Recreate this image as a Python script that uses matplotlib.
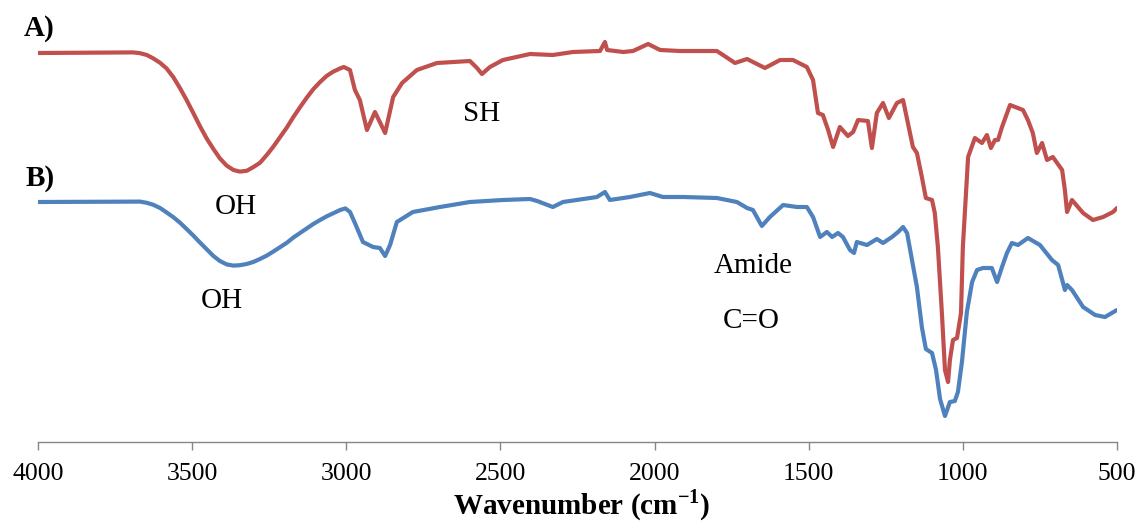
import matplotlib
matplotlib.use("Agg")
import matplotlib.pyplot as plt

plt.rcParams['font.family'] = ['Liberation Serif', 'DejaVu Serif']
plt.rcParams['mathtext.fontset'] = 'custom'
plt.rcParams['mathtext.rm'] = 'Liberation Serif'
plt.rcParams['mathtext.bf'] = 'Liberation Serif:bold'

# Spectrum A (offset transmittance, arbitrary units)
wn_a = [4000, 3691, 3669, 3647, 3626, 3604, 3583, 3561, 3539, 3518, 3496, 3475,
        3453, 3431, 3410, 3388, 3366, 3345, 3323, 3302, 3280, 3258, 3237, 3215,
        3193, 3172, 3150, 3128, 3107, 3085, 3064, 3042, 3020, 3008, 2988, 2972,
        2956, 2933, 2907, 2874, 2848, 2819, 2771, 2706,
        2599, 2576, 2560, 2534, 2492, 2404, 2330, 2265, 2177, 2161, 2154, 2102,
        2070, 2021, 1982, 1918, 1798, 1778, 1739, 1700, 1642, 1593, 1551, 1506,
        1486, 1470, 1454, 1437, 1421, 1399, 1373, 1356, 1340, 1308, 1295, 1279,
        1259, 1240, 1214, 1194, 1162, 1149, 1133, 1120, 1100, 1091, 1081, 1068,
        1058, 1048, 1042, 1032, 1019, 1006, 1000, 983, 961, 938, 922, 909, 896,
        886, 873, 847, 805, 789, 773, 760, 743, 727, 708, 678, 669, 662, 646,
        610, 578, 545, 513, 500]
t_a = [97.25, 97.4, 97.2, 96.75, 95.9, 94.8, 93.4, 91.2, 88.4, 85.5, 82.2, 79,
       75.9, 73.25, 70.9, 69.1, 68, 67.6, 67.8, 68.7, 69.8, 71.75, 73.8, 76.2,
       78.6, 81.2, 83.7, 86.1, 88.2, 90, 91.5, 92.6, 93.4, 93.75, 93, 88,
       85.5, 78, 82.5, 77.25, 86.25, 89.75, 93, 94.75,
       95.25, 93.5, 92, 93.75, 95.5, 97, 96.75, 97.5, 97.75, 100, 98, 97.5,
       97.75, 99.5, 98, 97.75, 97.75, 96.75, 94.75, 95.75, 93.5, 95.5, 95.5, 93.75,
       90.5, 82.25, 81.75, 78, 73.75, 78.75, 76.5, 77.5, 80.5, 80.25, 73.5, 82.25,
       84.75, 81, 84.75, 85.5, 73.75, 72.25, 66.25, 61, 60.5, 57.25, 48.75, 32.25,
       18, 15, 20.5, 25.5, 26, 32.25, 48.75, 71.25, 76, 74.75, 76.75, 73.5, 75.5,
       75.5, 78.75, 84.25, 83, 80.5, 77.25, 72.25, 74.75, 70.5, 71.25, 68, 63, 57.5, 60.5,
       57.25, 55.5, 56.25, 57.5, 58.5]

# Spectrum B
wn_b = [4000, 3669, 3647, 3626, 3604, 3583, 3561, 3539, 3518, 3496, 3475, 3453,
        3431, 3410, 3388, 3366, 3345, 3323, 3302, 3280, 3258, 3237, 3215, 3193,
        3172, 3150, 3128, 3107, 3085, 3064, 3042, 3020, 3003, 2988,
        2972, 2946, 2913, 2891, 2874, 2858, 2836, 2784, 2696, 2599, 2492,
        2404, 2381, 2330, 2297, 2187, 2161, 2145, 2080, 2015, 1973, 1908, 1798,
        1733, 1700, 1681, 1652, 1626, 1583, 1538, 1506, 1486, 1463, 1441, 1424,
        1405, 1389, 1366, 1353, 1344, 1311, 1279, 1259, 1230, 1210, 1194, 1181,
        1165, 1149, 1133, 1120, 1100, 1087, 1074, 1058, 1042, 1026, 1016, 1003,
        987, 970, 954, 935, 906, 889, 873, 857, 841, 821, 789, 750, 711, 691,
        675, 669, 662, 646, 610, 571, 539, 500]
t_b = [60, 60.1, 59.8, 59.3, 58.5, 57.4, 56.2, 54.8, 53.25, 51.6, 49.9, 48.2,
       46.5, 45.25, 44.4, 44.1, 44.2, 44.5, 45, 45.75, 46.6, 47.6, 48.7, 49.8,
       51.1, 52.25, 53.4, 54.5, 55.5, 56.4, 57.2, 58, 58.4, 57.5,
       54.75, 50, 48.75, 48.5, 46.5, 49.25, 55, 57.5, 58.75, 60, 60.5,
       60.75, 60.25, 58.75, 60, 61.25, 62.5, 60.5, 61.25, 62.25, 61.25, 61.25, 61,
       60, 58.5, 58, 54, 56.25, 59.25, 58.75, 58.75, 56.25, 51.25, 52.5, 51.25,
       52.25, 51.25, 48, 47.25, 50, 49.25, 50.75, 49.75, 51.25, 52.5, 53.75, 52.25,
       45.5, 38.75, 28.75, 23.25, 22.25, 18, 10.75, 6.5, 10, 10.25, 12.5, 20,
       32.5, 40, 43, 43.5, 43.5, 40, 43.75, 47.25, 49.75, 49.25, 51, 49.25, 45.5, 44.25,
       39.75, 38, 39.25, 38, 33.75, 31.75, 31.25, 33]

x_ticks = [4000, 3500, 3000, 2500, 2000, 1500, 1000, 500]

# Band assignments: (label, wavenumber, height)
band_labels = ["SH", "OH", "OH", "Amide", "C=O"]
band_wn = [2560, 3358, 3403, 1681, 1687]
band_t = [82.0, 58.75, 35.25, 44.0, 30.25]

RED = "#C0504D"
BLUE = "#4F81BD"
AXIS_GRAY = "#868686"

fig = plt.figure(figsize=(11.38, 5.22), dpi=100)
ax = fig.add_axes([38 / 1138, 80 / 522, 1079 / 1138, 442 / 522])

ax.plot(wn_b, t_b, color=BLUE, lw=3.0, solid_joinstyle='round', solid_capstyle='round')
ax.plot(wn_a, t_a, color=RED, lw=3.0, solid_joinstyle='round', solid_capstyle='round')

ax.set_xlim(4000, 500)
ax.set_ylim(0, 110.5)
ax.set_xticks(x_ticks)
ax.set_xticklabels([str(t) for t in x_ticks])
ax.set_yticks([])

for side in ("left", "right", "top"):
    ax.spines[side].set_visible(False)
ax.spines["bottom"].set_color(AXIS_GRAY)
ax.spines["bottom"].set_linewidth(1.0)
ax.tick_params(axis='x', direction='out', length=6, width=1.0, color=AXIS_GRAY,
               labelsize=18.5, labelcolor='black', pad=9)

for lab, w, t in zip(band_labels, band_wn, band_t):
    ax.text(w, t, lab, fontsize=21, ha='center', va='center', color='black')

fig.text(24 / 1138, 1 - 29 / 522, "A)", fontsize=21, fontweight='bold',
         ha='left', va='center')
fig.text(26 / 1138, 1 - 178 / 522, "B)", fontsize=21, fontweight='bold',
         ha='left', va='center')

fig.text(582 / 1138, 1 - 505 / 522, r"Wavenumber (cm$^{\mathbf{-1}}$)",
         fontsize=21, fontweight='bold', ha='center', va='center')

fig.savefig("out.png", dpi=100, facecolor='white')
